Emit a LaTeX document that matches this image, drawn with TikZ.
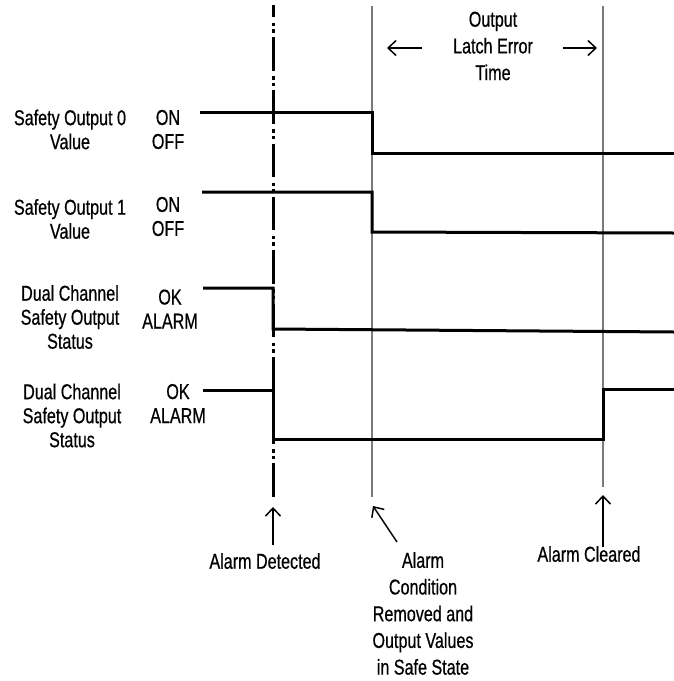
\documentclass[tikz,border=0pt]{standalone}
\usepackage{fontspec}
\setmainfont{Liberation Sans}[FakeStretch=0.75,FakeBold=0.6]
\usetikzlibrary{arrows.meta}

\begin{document}
\begin{tikzpicture}[x=1pt,y=-1pt,
	sig/.style={line width=3pt},
	gridline/.style={line width=2.2pt,draw=black!52},
	alarmline/.style={line width=3pt,dash pattern=on 33.5pt off 5.5pt on 3.5pt off 3pt on 3.5pt off 4.3pt,dash phase=21.3pt},
	lbl/.style={align=center,inner sep=0pt,font=\fontsize{21.5}{24}\selectfont},
	note/.style={align=center,inner sep=0pt,font=\fontsize{21.5}{26.7}\selectfont},
	pointer/.style={line width=1.5pt,-{Straight Barb[length=8pt,width=15pt]}}]
	
		\useasboundingbox (0,0) rectangle (674,681);
		
		% time marks
		\coordinate (a) at (273,5);
		\coordinate (a') at (273,500);
		\coordinate (b) at (372,6);
		\coordinate (b') at (372,497);
		\coordinate (c) at (603,6);
		\coordinate (c') at (603,487);
		\draw[gridline] (b) -- (b');
		\draw[gridline] (c) -- (c');
		
		% waveforms
		\draw[sig] (200,112) -- (372,112) -- (372,153) -- (674,153);
		\draw[sig] (202,192) -- (372,192) -- (372,232) -- (674,233);
		\draw[sig] (203,288) -- (273,288) -- (273,329) -- (674,332);
		\draw[sig] (203,390) -- (273,390) -- (273,439) -- (603,439) -- (603,389) -- (674,389);
		\draw[alarmline] (a) -- (a');
		
		% signal names and states
		\node[lbl] (out0) at (70,129.5) {Safety Output 0\\Value};
		\node[lbl] (out1) at (70,219) {Safety Output 1\\Value};
		\node[lbl] (dual0) at (70,317) {Dual Channel\\Safety Output\\Status};
		\node[lbl] (dual1) at (72,415.5) {Dual Channel\\Safety Output\\Status};
		\node[lbl] (st0) at (168,129.5) {ON\\OFF};
		\node[lbl] (st1) at (168,216.5) {ON\\OFF};
		\node[lbl] (st2) at (170,309) {OK\\ALARM};
		\node[lbl] (st3) at (178,403.5) {OK\\ALARM};
		
		% latch error time
		\node[note] (latch) at (493,46) {Output\\Latch Error\\Time};
		\coordinate (la) at (422,48);
		\coordinate (la') at (387,48);
		\coordinate (lb) at (563,48);
		\coordinate (lb') at (597,48);
		\draw[pointer] (la) -- (la');
		\draw[pointer] (lb) -- (lb');
		
		% events
		\node[note] (det) at (265,561) {Alarm Detected};
		\node[note] (rem) at (423,613.5) {Alarm\\Condition\\Removed and\\Output Values\\in Safe State};
		\node[note] (clr) at (589,554) {Alarm Cleared};
		\coordinate (p) at (273,545);
		\coordinate (p') at (273,507);
		\coordinate (q) at (397,542);
		\coordinate (q') at (373,506);
		\coordinate (r) at (603,547);
		\coordinate (r') at (603,495);
		\draw[pointer] (p) -- (p');
		\draw[pointer] (q) -- (q');
		\draw[pointer] (r) -- (r');
	\end{tikzpicture}
\end{document}
